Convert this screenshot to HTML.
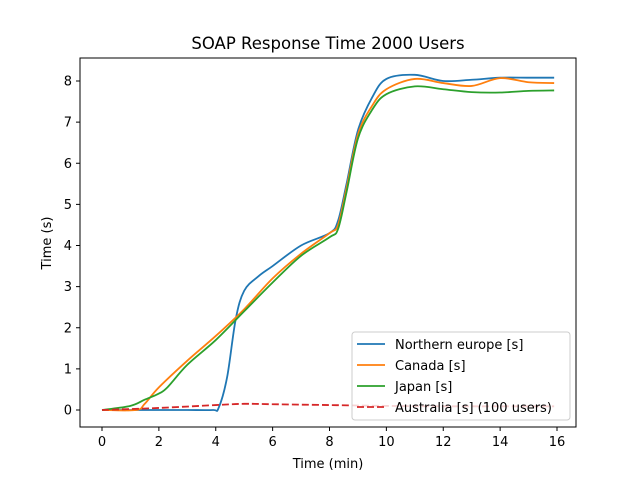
<!DOCTYPE html>
<html><head><meta charset="utf-8"><style>
body{margin:0;background:#fff;font-family:"DejaVu Sans","Liberation Sans",sans-serif}
</style></head><body>
<svg id="c" width="640" height="480" xmlns="http://www.w3.org/2000/svg">
<rect width="640" height="480" fill="#fff"/>
<text x="328" y="49" font-size="16.5" text-anchor="middle">SOAP Response Time 2000 Users</text>
<g id="plot"></g>
<rect x="80" y="58" width="496" height="369" fill="none" stroke="#000" stroke-width="1"/>
<g id="axes" font-size="13"></g>
<text x="328" y="468" font-size="13" text-anchor="middle">Time (min)</text>
<text x="51" y="243" font-size="13" text-anchor="middle" transform="rotate(-90 51 243)">Time (s)</text>
<g id="legend"></g>
</svg>
<script>
const xTicks=[0,2,4,6,8,10,12,14,16];
const yTicks=[0,1,2,3,4,5,6,7,8];
const seriesNames=["Northern europe [s]","Canada [s]","Japan [s]","Australia [s] (100 users)"];
const seriesColors=["#1f77b4","#ff7f0e","#2ca02c","#d62728"];
const neX=[0,1,2,3,3.9,4.1,4.4,4.7,5,5.5,6,7,8,8.3,8.6,9,9.5,10,11,12,13,14,15,15.9];
const neY=[0,0,0,0,0,0.05,0.8,2.2,2.9,3.25,3.5,4.0,4.3,4.6,5.5,6.8,7.6,8.05,8.15,8.0,8.03,8.08,8.08,8.08];
const caX=[0,1.2,1.5,2,3,4,5,6,7,8,8.3,8.6,9,9.5,10,11,12,13,14,15,15.9];
const caY=[0,0,0.15,0.55,1.2,1.8,2.45,3.2,3.8,4.3,4.5,5.4,6.7,7.4,7.8,8.05,7.95,7.88,8.07,7.97,7.95];
const jpX=[0,1,1.5,2,2.3,3,4,5,6,7,8,8.3,8.6,9,9.5,10,11,12,13,14,15,15.9];
const jpY=[0,0.1,0.25,0.4,0.55,1.1,1.7,2.4,3.1,3.75,4.2,4.4,5.3,6.6,7.3,7.68,7.87,7.8,7.73,7.72,7.76,7.77];
const auX=[0,2,4,5,6,8,10,12,14,15.9];
const auY=[0,0.05,0.12,0.15,0.14,0.12,0.1,0.09,0.09,0.09];
const sx=v=>102+v*(557-102)/16;
const sy=v=>410-v*(410-81)/8;
const NS="http://www.w3.org/2000/svg";
function mk(t,a,p){const e=document.createElementNS(NS,t);for(const k in a)e.setAttribute(k,a[k]);p.appendChild(e);return e;}
const axes=document.getElementById('axes');
xTicks.forEach(t=>{const x=sx(t);
 const l=mk('line',{x1:x,x2:x,y1:427,y2:431,stroke:'#000'},axes);
 
 
 const tx=mk('text',{x:x,y:446,'text-anchor':'middle'},axes);tx.textContent=t;
 
 });
yTicks.forEach(t=>{const y=sy(t);
 const l=mk('line',{x1:76,x2:80,y1:y,y2:y,stroke:'#000'},axes);
 
 
 const tx=mk('text',{x:72,y:y+4.5,'text-anchor':'end'},axes);tx.textContent=t;
 
 });
function smooth(xs,ys){const p=xs.map((x,i)=>[sx(x),sy(ys[i])]);let d='M'+p[0][0]+','+p[0][1];
 for(let i=0;i<p.length-1;i++){const p0=p[i-1]||p[i],p1=p[i],p2=p[i+1],p3=p[i+2]||p2;
 const c1=[p1[0]+(p2[0]-p0[0])/6,p1[1]+(p2[1]-p0[1])/6],c2=[p2[0]-(p3[0]-p1[0])/6,p2[1]-(p3[1]-p1[1])/6];
 d+=' C'+c1+' '+c2+' '+p2;}return d;}
const plot=document.getElementById('plot');
const data=[[neX,neY],[caX,caY],[jpX,jpY],[auX,auY]];
const names=['line-northern-europe','line-canada','line-japan','line-australia'];
data.forEach((s,i)=>{const a={d:smooth(s[0],s[1]),fill:'none',stroke:seriesColors[i],'stroke-width':1.8};
 if(i==3)a['stroke-dasharray']='7,3';
 const p=mk('path',a,plot);
 
 });
const lg=document.getElementById('legend');
const box=mk('rect',{x:352,y:332,width:218,height:88,rx:3,fill:'#fff','fill-opacity':0.8,stroke:'#ccc'},lg);


seriesNames.forEach((n,i)=>{const y=344+i*21;
 const a={x1:357,x2:385,y1:y,y2:y,stroke:seriesColors[i],'stroke-width':1.8};if(i==3)a['stroke-dasharray']='7,3';
 const l=mk('line',a,lg);
 
 
 const t=mk('text',{x:395,y:y+5,'font-size':13},lg);t.textContent=n;
 
 });
</script>
</body></html>
